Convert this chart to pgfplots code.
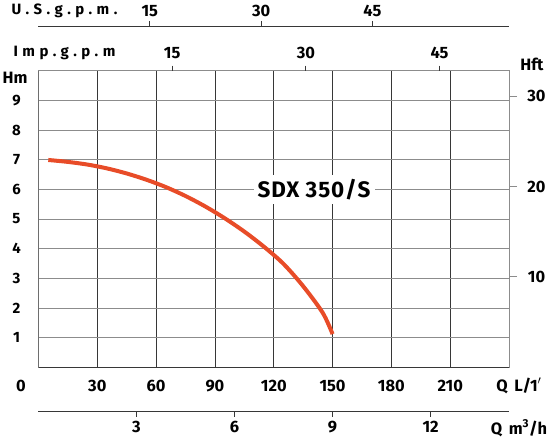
\documentclass[border=0pt]{standalone}
\usepackage{pgfplots}
\pgfplotsset{compat=1.18}
\usepackage{fontspec}
\setmainfont{Fira Sans}
\newfontfamily\wide{Fira Sans}[LetterSpace=30]
\newfontfamily\spaced{Fira Sans}[LetterSpace=4]
\usetikzlibrary{calc}

\definecolor{curve}{RGB}{232,76,40}
\definecolor{gridv}{RGB}{55,55,55}
\definecolor{gridh}{RGB}{140,140,140}
\newcommand{\lbl}{\bfseries\fontsize{16.5}{16.5}\selectfont}
\newcommand{\ylbl}{\bfseries\fontsize{15}{15}\selectfont}

\begin{document}
\begin{tikzpicture}
\pgfplotsset{
  base/.style={scale only axis, width=470.5bp, height=296.6bp,
    /pgf/number format/assume math mode=true,
    tick label style={font=\lbl}},
  aux/.style={scale only axis, width=470.5bp, height=20bp,
    axis y line=none, ymin=0, ymax=1, tick align=outside,
    major tick length=5bp, tick style={gridv, line width=0.8bp},
    axis line style={gridv, line width=0.8bp},
    /pgf/number format/assume math mode=true,
    tick label style={font=\lbl}},
}
% main grid: Q in L/min, H in m
\begin{axis}[base, name=m,
  xmin=0, xmax=240, ymin=0, ymax=10,
  xtick={30,60,...,210}, ytick={1,...,9},
  grid=major, major tick length=0,
  major x grid style={gridv, line width=0.8bp},
  major y grid style={gridh, line width=0.8bp},
  axis line style={gridh, line width=0.8bp},
  xticklabel style={anchor=center, yshift=-18.4bp},
  yticklabel style={anchor=center, xshift=-22bp, font=\ylbl},
]
\addplot[curve, line width=4bp, smooth, tension=0.5] coordinates {
  (5,6.99) (15,6.925) (25,6.835) (35,6.705) (45,6.535) (55,6.325)
  (65,6.075) (75,5.775) (85,5.425) (95,5.025) (105,4.575) (115,4.065)
  (125,3.485) (135,2.735) (145,1.835) (150,1.12)
};
\node[fill=white, inner sep=4bp, font=\bfseries\spaced\fontsize{22.5}{22.5}\selectfont]
  at (axis cs:140.6,6) {SDX 350/S};
\draw[gridv, line width=0.8bp] (rel axis cs:0,1) -- (rel axis cs:0,0) -- (rel axis cs:1,0);
\end{axis}
% right: H in ft
\begin{axis}[base,
  xmin=0, xmax=240, ymin=0, ymax=32.8084,
  axis x line=none, axis y line*=right,
  ytick={10,20,30}, tick align=outside, major tick length=8bp,
  tick style={gridh, line width=0.8bp},
  axis line style={draw=none},
  yticklabel style={anchor=center, xshift=19.5bp},
]
\end{axis}
% top: Imp. g.p.m.
\begin{axis}[aux, anchor=north west, at={(0,296.6bp)},
  axis x line*=top, xmin=0, xmax=52.793,
  xtick={15,30,45},
  axis line style={draw=none},
  xticklabel style={anchor=center, yshift=13bp},
]
\end{axis}
% top: U.S. g.p.m.
\begin{axis}[aux, anchor=north west, at={(0,341.3bp)},
  axis x line*=top, xmin=0, xmax=63.401,
  xtick={15,30,45},
  xticklabel style={anchor=center, yshift=10bp},
]
\end{axis}
% bottom: m3/h
\begin{axis}[aux, anchor=south west, at={(0,-44.4bp)},
  axis x line*=bottom, xmin=0, xmax=14.4,
  xtick={3,6,9,12},
  xticklabel style={anchor=center, yshift=-10.5bp},
]
\end{axis}
\begin{scope}[font=\lbl]
\node at ($(m.south west)+(26bp,356bp)$) {\bfseries\wide\fontsize{15}{15}\selectfont U.S.g.p.m.};
\node at ($(m.south west)+(26bp,314bp)$) {\bfseries\wide\fontsize{15}{15}\selectfont Imp.g.p.m};
\node at ($(m.south west)+(-23.5bp,289bp)$) {Hm};
\node at ($(m.south west)+(-17.5bp,-18.4bp)$) {0};
\node at ($(m.south west)+(480.5bp,-18.4bp)$) {Q\, L/1$'$};
\node at ($(m.south west)+(480.5bp,-61bp)$) {Q\, m\textsuperscript{3}/h};
\node at ($(m.south west)+(493.5bp,303.3bp)$) {Hft};
\end{scope}
\pgfresetboundingbox
\path[use as bounding box] ($(m.south west)+(-38.5bp,-71.7bp)$) rectangle ++(550bp,439bp);
\end{tikzpicture}
\end{document}
